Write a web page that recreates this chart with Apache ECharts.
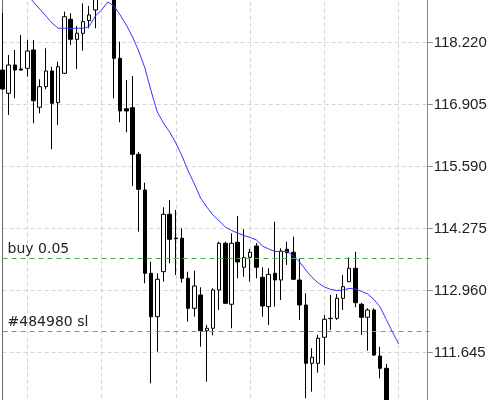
<!DOCTYPE html>
<html><head><meta charset="utf-8">
<script src="https://cdn.jsdelivr.net/npm/echarts@6/dist/echarts.min.js"></script>
<style>html,body{margin:0;padding:0;background:#fff}#c{width:495px;height:400px}</style>
</head><body><div id="c"></div>
<script>
// categories (bars), x labels are not shown in the reference
const categories = Array.from({length: 70}, (_, i) => String(i + 1));

const openVals = [117.641,117.147,117.747,117.663,117.677,118.066,116.850,117.287,117.620,116.948,
117.571,118.717,118.292,118.420,118.687,118.914,119.230,119.450,119.300,117.889,
116.820,116.842,115.853,115.096,113.329,112.409,113.363,114.581,114.078,114.072,
113.223,112.587,112.869,112.112,112.163,112.975,113.966,112.672,113.987,113.457,
113.669,113.908,113.244,112.621,113.329,113.187,113.838,113.775,113.187,112.657,
111.420,111.420,111.972,112.368,112.375,112.799,113.151,113.435,112.672,112.396,
112.551,111.575,111.314,110.500,110.200];
const closeVals = [117.238,117.747,117.641,117.641,118.044,116.990,117.287,117.620,116.935,117.711,
118.772,118.292,118.420,118.666,118.808,119.250,119.450,119.320,117.889,116.772,
116.772,115.853,115.111,113.329,112.409,113.202,114.581,114.050,114.063,113.223,
112.587,113.060,112.112,112.163,112.975,113.966,112.693,113.966,113.569,113.660,
113.775,113.457,112.636,113.308,113.187,113.802,113.766,113.202,112.657,111.420,
111.548,111.951,112.354,112.375,112.799,113.045,113.435,112.706,112.396,112.551,
111.596,111.314,110.500,110.200,110.000];
const lowVals = [117.217,116.687,117.041,117.631,117.499,116.511,116.723,117.232,115.959,116.475,
117.556,118.171,117.663,118.051,118.526,118.526,119.180,119.200,117.041,116.532,
116.320,115.181,114.212,113.117,110.996,111.667,113.151,113.541,113.293,113.130,
112.303,112.409,111.773,111.030,112.015,112.551,112.678,112.163,113.223,113.257,
113.151,113.223,112.409,112.233,112.621,112.763,113.505,113.187,112.339,110.678,
110.818,111.221,111.384,112.127,112.339,112.551,113.145,112.608,112.021,111.688,
111.575,111.102,110.400,110.100,109.900];
const highVals = [118.850,117.959,118.066,118.384,118.278,118.278,117.444,118.102,117.711,117.817,
118.878,118.844,118.575,119.056,118.999,119.350,119.600,119.700,119.400,118.242,
117.429,117.514,115.902,115.251,113.575,113.329,114.729,114.884,114.672,114.284,
113.363,113.385,113.032,112.233,113.011,114.000,114.000,114.178,114.545,114.263,
113.845,113.972,113.457,113.436,114.424,113.860,114.000,114.106,113.647,112.905,
111.739,112.021,112.445,112.869,112.890,113.293,113.669,113.787,112.700,112.587,
112.587,111.772,111.406,110.600,110.300];
const maVals = [119.762,119.635,119.508,119.381,119.232,119.084,118.935,118.787,118.638,118.526,
118.526,118.526,118.526,118.526,118.564,118.787,118.914,119.084,118.999,118.808,
118.596,118.341,118.044,117.684,117.196,116.750,116.517,116.326,116.093,115.817,
115.499,115.223,114.926,114.736,114.566,114.439,114.311,114.237,114.184,114.131,
114.089,114.036,113.908,113.845,113.792,113.792,113.792,113.696,113.569,113.399,
113.240,113.124,113.039,112.988,112.964,112.975,113.007,112.996,112.944,112.890,
112.774,112.615,112.350,112.084,111.830];

const yTickLabels = ['110.330','111.645','112.960','114.275','115.590','116.905','118.220','119.535'];
const yMin = 110.330, yMax = 119.535, yStep = 1.315;
const buyLevel = 113.647, slLevel = 112.091;
const buyText = 'buy 0.05', slText = '#484980 sl';

const candles = openVals.map((o, i) => [o, closeVals[i], lowVals[i], highVals[i]]);

const chart = echarts.init(document.getElementById('c'), null, {renderer: 'canvas'});
const gridLine = {show: true, lineStyle: {color: '#d4d4d4', width: 1, type: [4, 3]}};
const lineLabel = {show: true, position: 'insideStartTop', distance: [5, 2],
  color: '#222', fontFamily: 'DejaVu Sans', fontSize: 14};
chart.setOption({
  animation: false,
  backgroundColor: '#ffffff',
  grid: {left: 2.54, right: 65.4, top: -19.3, bottom: -14.7, outerBoundsMode: 'none', containLabel: false},
  xAxis: {
    type: 'category', data: categories, boundaryGap: false,
    axisLine: {show: false}, axisTick: {show: false}, axisLabel: {show: false},
    splitLine: Object.assign({}, gridLine, {interval: (idx) => (idx - 4) % 12 === 0})
  },
  yAxis: [{
    type: 'value', position: 'right', offset: -1.9, min: yMin, max: yMax, interval: yStep,
    axisLine: {show: true, lineStyle: {color: '#8a8a8a', width: 1}},
    axisTick: {show: true, length: 5, lineStyle: {color: '#8a8a8a'}},
    axisLabel: {
      margin: 6, color: '#222', fontFamily: 'Liberation Sans', fontSize: 15,
      formatter: (v) => { const s = v.toFixed(3); const k = yTickLabels.indexOf(s); return k >= 0 ? yTickLabels[k] : s; }
    },
    splitLine: gridLine
  }, {
    type: 'value', position: 'left', min: yMin, max: yMax, interval: yStep,
    axisLine: {show: true, lineStyle: {color: '#666', width: 1}},
    axisTick: {show: false}, axisLabel: {show: false}, splitLine: {show: false}
  }],
  series: [{
    type: 'candlestick', data: candles, barWidth: 4, clip: true,
    itemStyle: {color: '#ffffff', color0: '#000000', borderColor: '#000000', borderColor0: '#000000', borderWidth: 1}
  }, {
    type: 'line', data: maVals, showSymbol: false, symbol: 'none', clip: true,
    lineStyle: {color: '#3535ff', width: 1},
    markLine: {
      symbol: ['none', 'none'], silent: true, animation: false,
      lineStyle: {color: '#44b04a', width: 1, type: [5, 4]},
      label: Object.assign({}, lineLabel, {formatter: buyText}),
      data: [{yAxis: buyLevel}]
    }
  }, {
    type: 'line', data: [], showSymbol: false, symbol: 'none',
    lineStyle: {color: '#ea6a3c', width: 1},
    markLine: {
      symbol: ['none', 'none'], silent: true, animation: false,
      lineStyle: {color: '#ea6a3c', width: 1, type: [5, 4]},
      label: Object.assign({}, lineLabel, {formatter: slText}),
      data: [{yAxis: slLevel}]
    }
  }]
});
</script></body></html>
